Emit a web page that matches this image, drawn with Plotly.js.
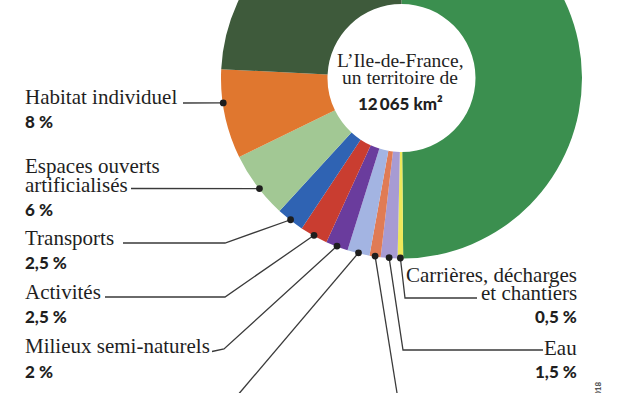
<!DOCTYPE html>
<html>
<head>
<meta charset="utf-8">
<script src="https://cdn.plot.ly/plotly-3.0.1.min.js"></script>
<style>
  html, body { margin: 0; padding: 0; width: 620px; height: 393px; overflow: hidden; background: #ffffff; }
  #chart { position: absolute; left: 0; top: -200px; width: 620px; height: 600px; }
</style>
</head>
<body>
<div id="chart"></div>
<script>
// ---- Data ----
const categories = ["Espaces agricoles", "Carrières, décharges et chantiers", "Eau", "Habitat collectif",
  "Équipements", "Milieux semi-naturels", "Activités", "Transports",
  "Espaces ouverts artificialisés", "Habitat individuel", "Forêts"];
const shares = [50, 0.5, 1.5, 1, 2, 2, 2.5, 2.5, 6, 8, 24.3];
const nameLines = [null, ["Carrières, décharges", "et chantiers"], ["Eau"], null, null,
  ["Milieux semi-naturels"], ["Activités"], ["Transports"],
  ["Espaces ouverts", "artificialisés"], ["Habitat individuel"], null];
const pctLabels = [null, "0,5 %", "1,5 %", null, null, "2 %", "2,5 %", "2,5 %", "6 %", "8 %", null];
const centerLines = ["L\u2019Ile-de-France,", "un territoire de"];
const centerTotal = "12\u2009065 km\u00b2";
const creditText = "2018";

// ---- Styles / positions ----
const colors = ["#3b8f4f", "#efe85a", "#a79bd3", "#e07b55", "#a3b4e2", "#6a3c9d",
  "#c93d30", "#2f63b3", "#a2c894", "#e0772f", "#3e5a3b"];
const CX = 401.5, CY = 78, R = 180.5, HOLE = 0.41;   // page pixel geometry of the donut
const DIV_H = 600, OFFSET = 200;                      // plot is taller than page and shifted up
const DOT_R = 180, DOT_SIZE = 3.4;
const dotShift = [0, 0, 0, 0, 0, 0, 0, 0, -1.2, 3.6, 0];
// label blocks: side, x, y of each name line, y of pct, leader route (page px) before dot
const labelLayout = {
  9: {side: "left", x: 23, ys: [97], pctY: 121.5, route: [[183, 103]]},
  8: {side: "left", x: 23, ys: [166, 185], pctY: 209.5, route: [[131, 188.5]]},
  7: {side: "left", x: 23, ys: [238], pctY: 262.5, route: [[123, 243], [225, 243]]},
  6: {side: "left", x: 23, ys: [292], pctY: 316.5, route: [[105, 297], [225, 297]]},
  5: {side: "left", x: 23, ys: [346], pctY: 371, route: [[212, 351.5], [224, 349]]},
  1: {side: "right", x: 579, ys: [275, 293], pctY: 316.5, route: [[477, 298], [405, 298]]},
  2: {side: "right", x: 579, ys: [348], pctY: 371, route: [[543, 350], [403, 350]]},
  4: {route: [[237, 396]]},
  3: {route: [[397.5, 396]]}
};

const serif = "Liberation Serif, Times New Roman, serif";
const sans = "'Lato Black', Lato, Roboto, Arial, sans-serif";
const txtColor = "#1f1f1f";
const lineColor = "#3a3a3a";

// ---- Build ----
const total = shares.reduce((a, b) => a + b, 0);
let cum = 0;
const dots = shares.map((v, i) => {
  const mid = (cum + v / 2) / total * 360 + dotShift[i];
  cum += v;
  const t = mid * Math.PI / 180;
  return [CX + DOT_R * Math.sin(t), CY - DOT_R * Math.cos(t)];
});

const shapes = [];
const annotations = [];
Object.keys(labelLayout).forEach(k => {
  const i = +k, L = labelLayout[k];
  const pts = L.route.concat([dots[i]]);
  shapes.push({type: "path", xref: "x", yref: "y", layer: "above",
    path: "M " + pts.map(p => p[0].toFixed(2) + "," + p[1].toFixed(2)).join(" L "),
    line: {color: lineColor, width: 1.3}});
  shapes.push({type: "circle", xref: "x", yref: "y", layer: "above",
    x0: dots[i][0] - DOT_SIZE, x1: dots[i][0] + DOT_SIZE,
    y0: dots[i][1] - DOT_SIZE, y1: dots[i][1] + DOT_SIZE,
    fillcolor: "#1e1e1e", line: {width: 0}});
  if (nameLines[i]) {
    nameLines[i].forEach((t, j) => annotations.push({
      text: t, xref: "x", yref: "y", x: L.x, y: L.ys[j], showarrow: false,
      xanchor: L.side === "left" ? "left" : "right", yanchor: "middle",
      font: {family: serif, size: 21, color: txtColor}
    }));
    annotations.push({
      text: pctLabels[i], xref: "x", yref: "y", x: L.x, y: L.pctY, showarrow: false,
      xanchor: L.side === "left" ? "left" : "right", yanchor: "middle",
      font: {family: sans, size: 17, color: txtColor, weight: 900}
    });
  }
});
annotations.push({text: centerLines[0], xref: "x", yref: "y", x: 400, y: 60.5, showarrow: false,
  xanchor: "center", yanchor: "middle", font: {family: serif, size: 19.5, color: txtColor}});
annotations.push({text: centerLines[1], xref: "x", yref: "y", x: 400, y: 77.5, showarrow: false,
  xanchor: "center", yanchor: "middle", font: {family: serif, size: 19.5, color: txtColor}});
annotations.push({text: centerTotal, xref: "x", yref: "y", x: 400, y: 103.5, showarrow: false,
  xanchor: "center", yanchor: "middle", font: {family: sans, size: 17, color: txtColor, weight: 900}});
annotations.push({text: creditText, xref: "x", yref: "y", x: 597, y: 380, showarrow: false,
  textangle: -90, xanchor: "center", yanchor: "top", font: {family: sans, size: 8, color: "#555"}});

const W = 620;
const divCY = CY + OFFSET;             // center from div top
const fromBottom = DIV_H - divCY;
const pie = {
  type: "pie", labels: categories, values: shares, sort: false,
  direction: "clockwise", rotation: 0, hole: HOLE,
  marker: {colors: colors, line: {width: 0}},
  textinfo: "none", hoverinfo: "skip", showlegend: false,
  domain: {x: [(CX - R) / W, (CX + R) / W], y: [(fromBottom - R) / DIV_H, (fromBottom + R) / DIV_H]}
};
const anchor = {type: "scatter", x: [0], y: [0], mode: "markers", marker: {opacity: 0},
  hoverinfo: "skip", showlegend: false};

const layout = {
  width: W, height: DIV_H, margin: {l: 0, r: 0, t: 0, b: 0},
  paper_bgcolor: "#ffffff", plot_bgcolor: "rgba(0,0,0,0)", showlegend: false,
  xaxis: {range: [0, W], visible: false, fixedrange: true},
  yaxis: {range: [DIV_H - OFFSET, -OFFSET], visible: false, fixedrange: true},
  shapes: shapes, annotations: annotations
};
Plotly.newPlot("chart", [anchor, pie], layout, {staticPlot: true, displayModeBar: false});
</script>
</body>
</html>
